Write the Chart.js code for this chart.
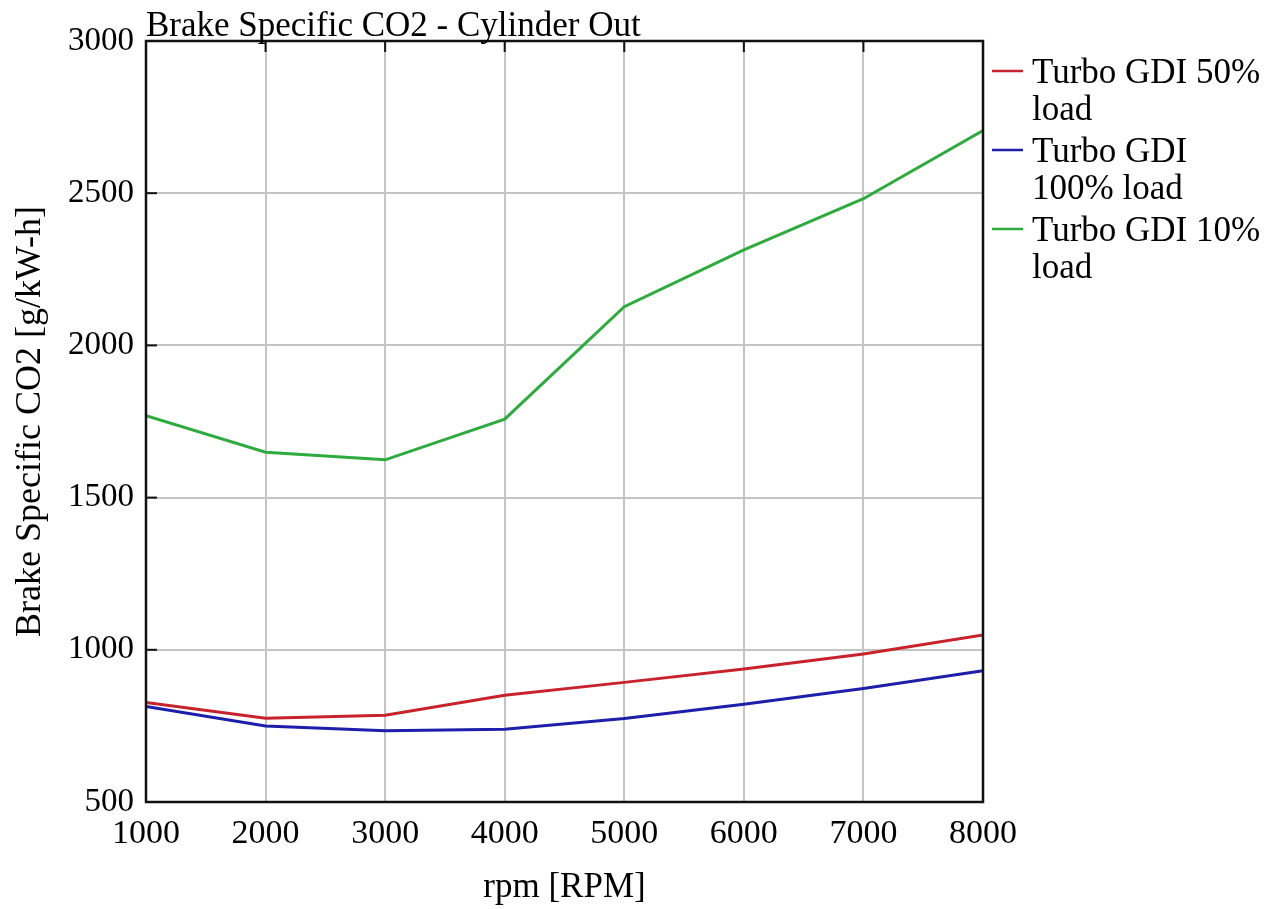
<!DOCTYPE html>
<html>
<head>
<meta charset="utf-8">
<script src="https://cdn.jsdelivr.net/npm/chart.js@4.4.1/dist/chart.umd.min.js"></script>
<style>
  html, body { margin: 0; padding: 0; background: #fff; }
  #wrap { width: 1276px; height: 909px; }
</style>
</head>
<body>
<div id="wrap"><canvas id="c" width="1276" height="909"></canvas></div>
<script>
// Engine speed sweep (rpm)
const rpm = [1000, 2000, 3000, 4000, 5000, 6000, 7000, 8000];

// Brake specific CO2, cylinder out [g/kW-h]
const load50 = [827, 775, 785, 851, 893, 937, 986, 1049];
const load100 = [814, 750, 734, 739, 774, 821, 873, 931];
const load10 = [1769, 1649, 1624, 1758, 2127, 2314, 2482, 2706];

const seriesNames = ['Turbo GDI 50% load', 'Turbo GDI 100% load', 'Turbo GDI 10% load'];
const seriesColors = ['#c8232c', '#1e1eaa', '#2eaa3e'];

const yTicks = [500, 1000, 1500, 2000, 2500, 3000];
const xTicks = [1000, 2000, 3000, 4000, 5000, 6000, 7000, 8000];

const chartTitle = 'Brake Specific CO2 - Cylinder Out';
const xTitle = 'rpm [RPM]';
const yTitle = 'Brake Specific CO2 [g/kW-h]';

const FONT = '"Liberation Serif", "Times New Roman", serif';
const TEXT_FS = 35;

const toPoints = (vals) => rpm.map((x, i) => ({ x: x, y: vals[i] }));

// Frame, inner tick marks, title and a wrapping legend at the right
const decorations = {
  id: 'decorations',
  afterDatasetsDraw(chart) {
    const ctx = chart.ctx;
    const a = chart.chartArea;
    const xs = chart.scales.x, ys = chart.scales.y;
    ctx.save();
    // inner ticks on left and top edges
    ctx.strokeStyle = '#111';
    ctx.lineWidth = 2;
    yTicks.forEach(v => {
      const y = ys.getPixelForValue(v);
      ctx.beginPath(); ctx.moveTo(a.left, y); ctx.lineTo(a.left + 11, y); ctx.stroke();
    });
    xTicks.forEach(v => {
      const x = xs.getPixelForValue(v);
      ctx.beginPath(); ctx.moveTo(x, a.top); ctx.lineTo(x, a.top + 11); ctx.stroke();
    });
    // frame
    ctx.lineWidth = 2.5;
    ctx.strokeRect(a.left, a.top, a.right - a.left, a.bottom - a.top);

    // title
    ctx.fillStyle = '#000';
    ctx.font = TEXT_FS + 'px ' + FONT;
    ctx.textAlign = 'left';
    ctx.textBaseline = 'alphabetic';
    ctx.fillText(chartTitle, a.left, a.top - 5);

    // legend
    const maxW = 240;
    const lx = a.right + 9, tx = a.right + 49;
    let base = 83;
    chart.data.datasets.forEach(ds => {
      const words = ds.label.split(' ');
      const lines = [];
      let cur = '';
      words.forEach(w => {
        const t = cur ? cur + ' ' + w : w;
        if (ctx.measureText(t).width > maxW && cur) { lines.push(cur); cur = w; }
        else cur = t;
      });
      if (cur) lines.push(cur);
      ctx.strokeStyle = ds.borderColor;
      ctx.lineWidth = 2.5;
      ctx.beginPath(); ctx.moveTo(lx, base - 12); ctx.lineTo(lx + 31, base - 12); ctx.stroke();
      ctx.fillStyle = '#000';
      lines.forEach((ln, i) => ctx.fillText(ln, tx, base + i * 37));
      base += lines.length * 37 + 5;
    });
    ctx.restore();
  }
};

new Chart(document.getElementById('c'), {
  type: 'line',
  data: {
    datasets: [load50, load100, load10].map((vals, i) => ({
      label: seriesNames[i],
      data: toPoints(vals),
      borderColor: seriesColors[i],
      backgroundColor: seriesColors[i],
      borderWidth: 3,
      pointRadius: 0,
      tension: 0,
      fill: false
    }))
  },
  options: {
    responsive: false,
    animation: false,
    devicePixelRatio: 1,
    layout: { padding: { top: 41, right: 293, left: 0, bottom: 0 } },
    plugins: { legend: { display: false }, title: { display: false }, tooltip: { enabled: false } },
    scales: {
      x: {
        type: 'linear',
        min: 1000, max: 8000,
        afterBuildTicks: s => { s.ticks = xTicks.map(v => ({ value: v })); },
        afterFit: s => { s.height = 107; },
        grid: { color: '#c4c4c4', lineWidth: 2, drawTicks: false },
        border: { display: false },
        ticks: { color: '#000', font: { family: FONT, size: 34 }, padding: 12, maxRotation: 0, callback: v => String(v) },
        title: { display: true, text: xTitle, color: '#000', font: { family: FONT, size: 35 }, padding: { top: 0, bottom: 0 } }
      },
      y: {
        min: 500, max: 3000,
        afterBuildTicks: s => { s.ticks = yTicks.map(v => ({ value: v })); },
        afterFit: s => { s.width = 146; },
        grid: { color: '#c4c4c4', lineWidth: 2, drawTicks: false },
        border: { display: false },
        ticks: { color: '#000', font: { family: FONT, size: 33 }, padding: 12, callback: v => String(v) },
        title: { display: true, text: yTitle, color: '#000', font: { family: FONT, size: 36 }, padding: { top: 9, bottom: 0 } }
      }
    }
  },
  plugins: [decorations]
});
</script>
</body>
</html>
